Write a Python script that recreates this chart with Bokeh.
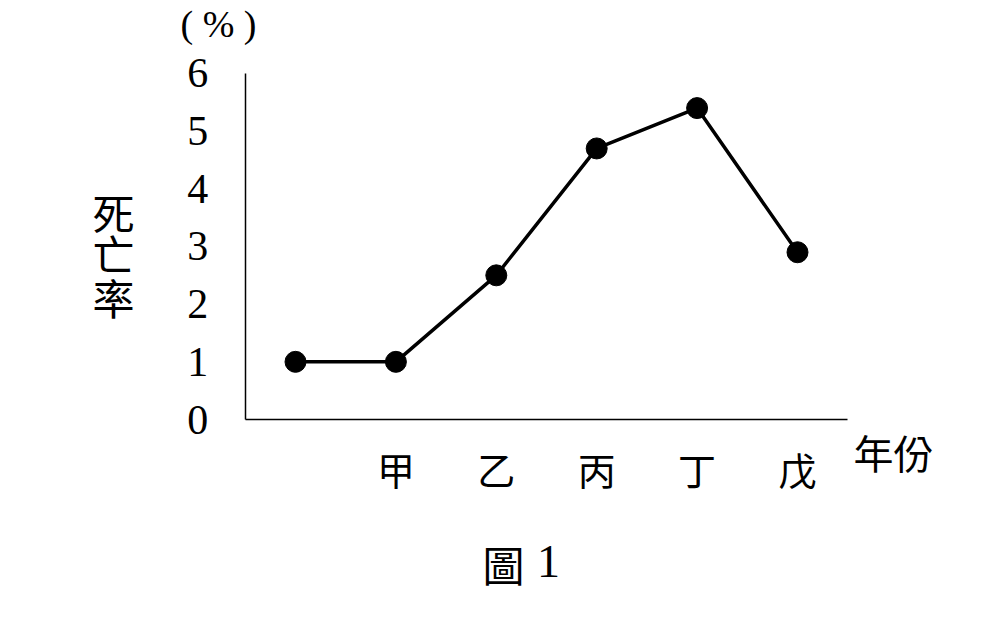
from bokeh.plotting import figure
from bokeh.models import Label, FixedTicker, Range1d
from bokeh.embed import file_html
from bokeh.resources import INLINE

# data
positions = [0, 1, 2, 3, 4, 5]
categories = ["", "甲", "乙", "丙", "丁", "戊"]
death_rate = [1.0, 1.0, 2.5, 4.7, 5.4, 2.9]
y_ticks = [0, 1, 2, 3, 4, 5, 6]

SERIF = "Liberation Serif"
CJK = "Noto Sans CJK TC"

W, H = 976, 616
# pixel mapping of the drawing area: x=0 at 295px, 100.4px per year; y=0 at 419px, 57.67px per %
XS, X0 = 100.4, 295.0
YS, Y0 = 57.67, 419.0
p = figure(width=W, height=H, output_backend="svg", toolbar_location=None,
           x_range=Range1d(-X0 / XS, (W - X0) / XS),
           y_range=Range1d((Y0 - H) / YS, Y0 / YS),
           min_border=0)
p.outline_line_color = None
p.grid.grid_line_color = None

p.line(positions, death_rate, line_color="black", line_width=3.5)
p.scatter(positions, death_rate, size=21, fill_color="black", line_color="black")

ya = p.yaxis[0]
ya.fixed_location = -0.5
ya.bounds = (0, 6)
ya.ticker = FixedTicker(ticks=y_ticks)
ya.major_tick_line_color = None
ya.minor_tick_line_color = None
ya.major_tick_in = 0
ya.major_tick_out = 0
ya.axis_line_color = "black"
ya.axis_line_width = 1.5
ya.major_label_text_font = SERIF
ya.major_label_text_font_size = "42px"
ya.major_label_text_color = "black"
ya.major_label_standoff = 37

xa = p.xaxis[0]
xa.fixed_location = 0
xa.bounds = (-0.5, 5.5)
xa.ticker = FixedTicker(ticks=positions[1:])
xa.major_label_overrides = {i: c for i, c in zip(positions, categories) if c}
xa.major_tick_line_color = None
xa.minor_tick_line_color = None
xa.major_tick_in = 0
xa.major_tick_out = 0
xa.axis_line_color = "black"
xa.axis_line_width = 1.5
xa.major_label_text_font = CJK
xa.major_label_text_font_size = "38px"
xa.major_label_text_color = "black"
xa.major_label_standoff = 21


def lab(px, py, t, font, size):
    p.add_layout(Label(x=(px - X0) / XS, y=(Y0 - py) / YS, text=t,
                       text_font=font, text_font_size=size,
                       text_align="center", text_baseline="middle",
                       text_color="black"))


lab(218, 23, "( % )", SERIF, "38px")
lab(113, 211, "死", CJK, "42px")
lab(113, 252, "亡", CJK, "42px")
lab(113, 296, "率", CJK, "42px")
lab(893, 451, "年份", CJK, "40px")
lab(503, 563, "圖", CJK, "42px")
lab(548, 561, "1", SERIF, "46px")

open("out.html", "w").write(file_html(p, INLINE))
